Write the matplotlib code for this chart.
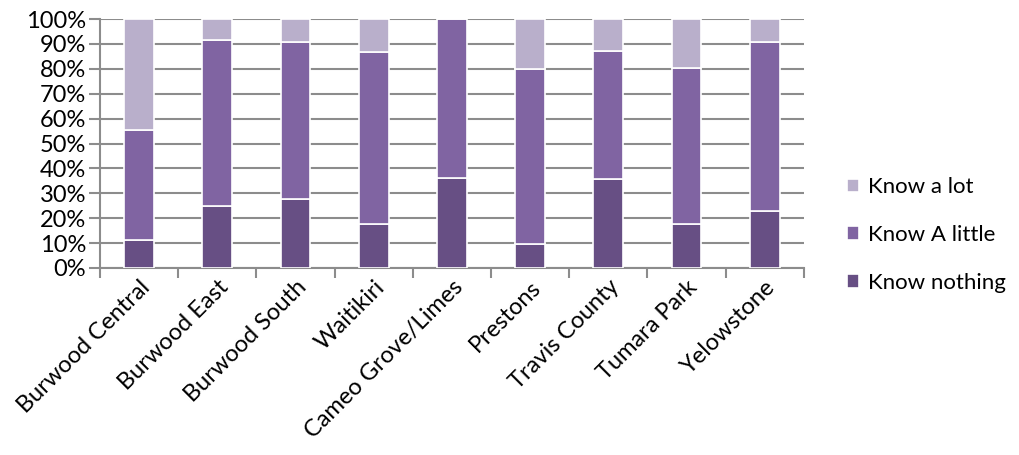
import matplotlib
matplotlib.use("Agg")
import matplotlib.pyplot as plt
import numpy as np
from matplotlib.ticker import FixedLocator, PercentFormatter

categories = ["Burwood Central", "Burwood East", "Burwood South", "Waitikiri",
              "Cameo Grove/Limes", "Prestons", "Travis County", "Tumara Park", "Yelowstone"]
know_nothing = [11.3, 24.8, 27.7, 17.6, 36.1, 9.8, 35.7, 17.5, 22.7]
know_little = [44.3, 66.9, 63.0, 69.0, 63.9, 70.1, 51.4, 62.9, 68.0]
know_lot = [44.4, 8.3, 9.3, 13.4, 0.0, 20.1, 12.9, 19.6, 9.3]
series_names = ["Know nothing", "Know A little", "Know a lot"]
colors = ["#674F84", "#8064A2", "#B9AFCB"]

plt.rcParams['font.family'] = ['Lato', 'DejaVu Sans']

fig = plt.figure(figsize=(10.2, 4.55), dpi=100)
ax = fig.add_axes([0.098, 0.411, 0.69, 0.547])

x = np.arange(len(categories))
bottom = np.zeros(len(categories))
handles = []
for vals, name, c in zip([know_nothing, know_little, know_lot], series_names, colors):
    h = ax.bar(x, vals, bottom=bottom, width=0.38, color=c, edgecolor="white",
               linewidth=1.2, label=name, zorder=3)
    handles.append(h)
    bottom += np.array(vals)

ax.set_xlim(-0.5, len(categories) - 0.5)
ax.set_ylim(0, 100)
ax.set_yticks(np.arange(0, 101, 10))
ax.yaxis.set_major_formatter(PercentFormatter(decimals=0))
ax.yaxis.grid(True, color="#8C8C8C", linewidth=1.5, zorder=0)
ax.set_axisbelow(True)

ax.set_xticks(x)
ax.set_xticklabels(categories, rotation=45, ha="right", rotation_mode="anchor", fontsize=17)
ax.tick_params(axis="x", which="major", length=0, pad=6)
ax.xaxis.set_minor_locator(FixedLocator(np.arange(-0.5, len(categories), 1.0)))
ax.tick_params(axis="x", which="minor", length=7, width=1.5, color="#8C8C8C")
ax.tick_params(axis="y", length=8, width=1.5, color="#8C8C8C", labelsize=17, pad=2)

for s in ["top", "right"]:
    ax.spines[s].set_visible(False)
for s in ["left", "bottom"]:
    ax.spines[s].set_color("#8C8C8C")
    ax.spines[s].set_linewidth(1.5)

leg = fig.legend(handles[::-1], series_names[::-1], loc="center left",
                 bbox_to_anchor=(0.811, 0.4835), frameon=False, fontsize=16,
                 handlelength=0.55, handleheight=0.55, handletextpad=0.4, labelspacing=1.25)

fig.savefig("out.png", dpi=100)
